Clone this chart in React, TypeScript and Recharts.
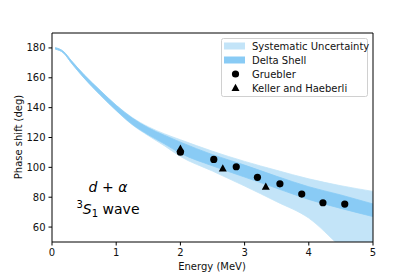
import { ComposedChart, Area, Scatter, XAxis, YAxis, ReferenceLine } from 'recharts';

// band grid (MeV)
const energy = [0.05, 0.18, 0.3, 0.5, 0.75, 1.0, 1.25, 1.5, 1.75, 2.0, 2.5, 3.0, 3.5, 4.0, 4.5, 5.0];
const deltaHi = [180.2, 177.6, 171.5, 162, 151.5, 141.5, 133, 126.5, 121.5, 116.9, 108.5, 101.5, 94, 87, 81.5, 75.5];
const deltaLo = [179.2, 176.6, 170, 159.8, 148.6, 138.2, 128.8, 121.8, 115.8, 109.5, 101, 93.5, 86, 78.5, 72.5, 67];
const sysHi = [180.2, 177.6, 171.5, 162, 151.6, 141.7, 133.4, 127.2, 122.5, 118.5, 110.8, 104, 98, 92.3, 87.7, 83.9];
const sysLo = [179.2, 176.6, 170, 159.8, 148.5, 138, 128.5, 121.2, 114.5, 107.3, 97.5, 87.5, 77, 66, 46.5, 27];

const gruE = [2.0, 2.52, 2.87, 3.2, 3.55, 3.89, 4.22, 4.56];
const gruV = [110.2, 105.3, 100.4, 93.3, 89, 82.1, 76.3, 75.4];
const khE = [2.0, 2.66, 3.33];
const khV = [112.5, 99.3, 87];

const xTicks = [0, 1, 2, 3, 4, 5];
const yTicks = [60, 80, 100, 120, 140, 160, 180];

const band = energy.map((e, i) => ({
  E: e,
  sys: [sysLo[i], sysHi[i]],
  delta: [deltaLo[i], deltaHi[i]],
}));
const gruebler = gruE.map((e, i) => ({ E: e, v: gruV[i] }));
const keller = khE.map((e, i) => ({ E: e, v: khV[i] }));

const SYS = '#c3e4f8';
const DELTA = '#89cbf5';
const FONT = '"DejaVu Sans", sans-serif';

const Dot = (p: any) => <circle cx={p.cx} cy={p.cy} r={3.6} fill="#000" />;
const Tri = (p: any) => (
  <path d={`M${p.cx},${p.cy - 4.2} L${p.cx + 4},${p.cy + 3} L${p.cx - 4},${p.cy + 3} Z`} fill="#000" />
);

function LegendBox() {
  const rows = ['Systematic Uncertainty', 'Delta Shell', 'Gruebler', 'Keller and Haeberli'];
  return (
    <svg width={150} height={62} style={{ position: 'absolute', left: 221, top: 38 }}>
      <rect x={0.5} y={0.5} width={146} height={58} rx={2} fill="#fff" fillOpacity={0.8} stroke="#d0d0d0" />
      <rect x={3} y={4.5} width={21} height={7} fill={SYS} />
      <rect x={3} y={18.5} width={21} height={7} fill={DELTA} />
      <circle cx={14.5} cy={36} r={3.6} fill="#000" />
      <path d="M14.5,45.8 L18.5,53 L10.5,53 Z" fill="#000" />
      {rows.map((r, i) => (
        <text key={r} x={31} y={8 + i * 14.2} dominantBaseline="central" fontSize={10} fontFamily={FONT} fill="#111">
          {r}
        </text>
      ))}
    </svg>
  );
}

export default function App() {
  return (
    <div style={{ position: 'absolute', left: 0, top: 0, width: 415, height: 277, background: '#fff' }}>
      <ComposedChart width={415} height={277} data={band} margin={{ top: 33, right: 42, bottom: 0, left: 0 }}>
        <XAxis
          dataKey="E"
          type="number"
          domain={[0, 5]}
          ticks={xTicks}
          height={35}
          tickSize={3.5}
          tickMargin={3}
          tick={{ fontSize: 10, fill: '#111', fontFamily: FONT }}
          axisLine={{ stroke: '#000', strokeWidth: 1 }}
          tickLine={{ stroke: '#000' }}
          label={{
            content: () => (
              <text x={212} y={266} textAnchor="middle" dominantBaseline="central" fontSize={10} fontFamily={FONT} fill="#111">
                Energy (MeV)
              </text>
            ),
          }}
        />
        <YAxis
          type="number"
          domain={[50, 190]}
          allowDataOverflow
          ticks={yTicks}
          width={52}
          tickSize={3.5}
          tickMargin={3}
          tick={{ fontSize: 10, fill: '#111', fontFamily: FONT }}
          axisLine={{ stroke: '#000', strokeWidth: 1 }}
          tickLine={{ stroke: '#000' }}
          label={{
            content: () => (
              <text
                x={18}
                y={137}
                transform="rotate(-90 18 137)"
                textAnchor="middle"
                dominantBaseline="central"
                fontSize={10}
                fontFamily={FONT}
                fill="#111"
              >
                Phase shift (deg)
              </text>
            ),
          }}
        />
        <Area type="monotone" dataKey="sys" fill={SYS} fillOpacity={1} stroke={SYS} strokeWidth={0.8} isAnimationActive={false} />
        <Area type="monotone" dataKey="delta" fill={DELTA} fillOpacity={1} stroke={DELTA} strokeWidth={0.8} isAnimationActive={false} />
        <Scatter data={gruebler} dataKey="v" shape={Dot} isAnimationActive={false} />
        <Scatter data={keller} dataKey="v" shape={Tri} isAnimationActive={false} />
        <ReferenceLine y={190} stroke="#000" strokeWidth={1} />
        <ReferenceLine x={5} stroke="#000" strokeWidth={1} />
      </ComposedChart>
      <LegendBox />
      <div
        style={{
          position: 'absolute',
          left: 58,
          top: 178,
          width: 100,
          textAlign: 'center',
          fontFamily: FONT,
          fontSize: 14,
          lineHeight: '18px',
          color: '#000',
        }}
      >
        <div>
          <i>d</i> + <i>α</i>
        </div>
        <div>
          <sup style={{ fontSize: 10 }}>3</sup>
          <i>S</i>
          <sub style={{ fontSize: 10 }}>1</sub> wave
        </div>
      </div>
    </div>
  );
}
